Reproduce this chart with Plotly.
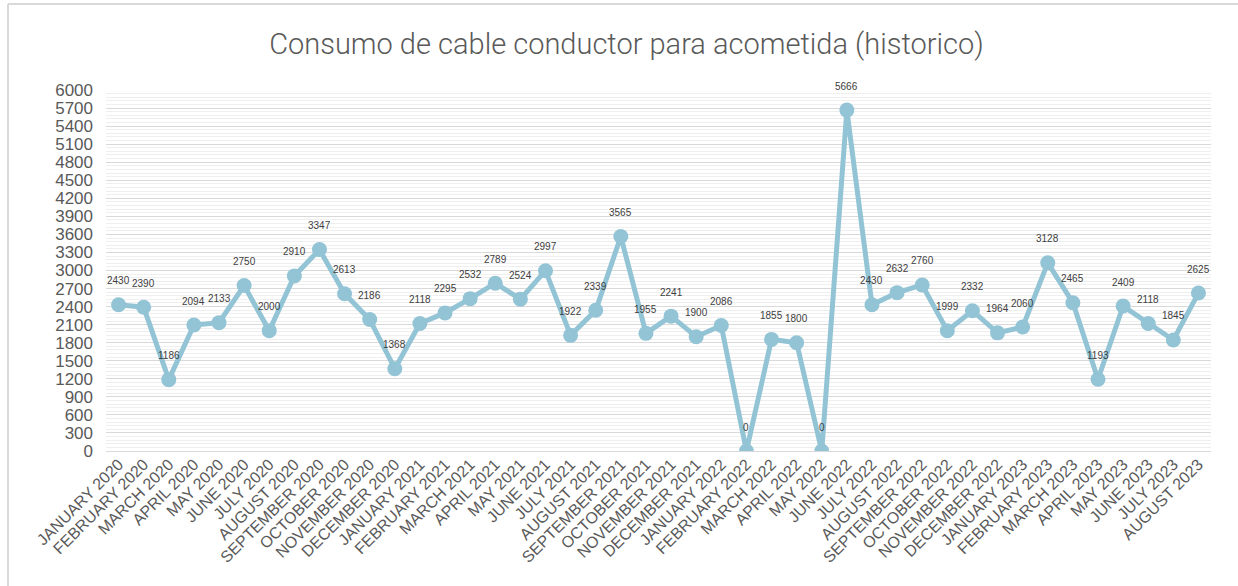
import plotly.graph_objects as go

# Monthly consumption, January 2020 - August 2023
months = [
    "JANUARY 2020", "FEBRUARY 2020", "MARCH 2020", "APRIL 2020", "MAY 2020", "JUNE 2020",
    "JULY 2020", "AUGUST 2020", "SEPTEMBER 2020", "OCTOBER 2020", "NOVEMBER 2020", "DECEMBER 2020",
    "JANUARY 2021", "FEBRUARY 2021", "MARCH 2021", "APRIL 2021", "MAY 2021", "JUNE 2021",
    "JULY 2021", "AUGUST 2021", "SEPTEMBER 2021", "OCTOBER 2021", "NOVEMBER 2021", "DECEMBER 2021",
    "JANUARY 2022", "FEBRUARY 2022", "MARCH 2022", "APRIL 2022", "MAY 2022", "JUNE 2022",
    "JULY 2022", "AUGUST 2022", "SEPTEMBER 2022", "OCTOBER 2022", "NOVEMBER 2022", "DECEMBER 2022",
    "JANUARY 2023", "FEBRUARY 2023", "MARCH 2023", "APRIL 2023", "MAY 2023", "JUNE 2023",
    "JULY 2023", "AUGUST 2023",
]
consumo = [
    2430, 2390, 1186, 2094, 2133, 2750, 2000, 2910, 3347, 2613, 2186, 1368,
    2118, 2295, 2532, 2789, 2524, 2997, 1922, 2339, 3565, 1955, 2241, 1900,
    2086, 0, 1855, 1800, 0, 5666, 2430, 2632, 2760, 1999, 2332, 1964,
    2060, 3128, 2465, 1193, 2409, 2118, 1845, 2625,
]
y_ticks = list(range(0, 6001, 300))

LINE = "#93C4D5"
TXT = "#595959"
FONT = "Liberation Sans, Arial"

fig = go.Figure()
fig.add_trace(go.Scatter(
    x=months, y=consumo, mode="lines+markers",
    line=dict(color=LINE, width=5),
    marker=dict(color=LINE, size=15),
    hoverinfo="x+y", showlegend=False,
))

# value labels above each point
for m, v in zip(months, consumo):
    fig.add_annotation(
        x=m, y=v, text=str(v), showarrow=False, yshift=24,
        font=dict(family=FONT, size=10, color="#404040"),
    )

# outer chart frame
frame = dict(color="#D9D9D9", width=2)
fig.add_shape(type="line", xref="paper", yref="paper",
              x0=-0.0887, x1=1.05, y0=1.238, y1=1.238, line=frame)
fig.add_shape(type="line", xref="paper", yref="paper",
              x0=-0.0887, x1=-0.0887, y0=1.238, y1=-0.5, line=frame)

fig.update_layout(
    width=1238, height=586,
    margin=dict(l=106, r=27, t=90, b=135),
    paper_bgcolor="white", plot_bgcolor="white",
    title=dict(
        text="Consumo de cable conductor para acometida (historico)",
        x=0.506, xref="container", xanchor="center", y=0.926, yanchor="middle",
        font=dict(family="Roboto", weight=300, size=29, color=TXT),
    ),
    xaxis=dict(
        type="category", range=[-0.5, len(months) - 0.5],
        tickangle=-45, showgrid=False, showline=False, ticks="",
        tickfont=dict(family=FONT, size=16, color=TXT),
    ),
    yaxis=dict(
        range=[0, 6000], tickvals=y_ticks, ticktext=[str(t) for t in y_ticks],
        showgrid=True, gridcolor="#D9D9D9", gridwidth=1.2,
        zeroline=True, zerolinecolor="#D9D9D9", zerolinewidth=1.2,
        minor=dict(dtick=60, showgrid=True, gridcolor="#EFEFEF", gridwidth=1),
        ticks="", showline=False, ticklabelstandoff=12,
        tickfont=dict(family=FONT, size=17, color=TXT),
    ),
)

fig.write_html("out.html")
